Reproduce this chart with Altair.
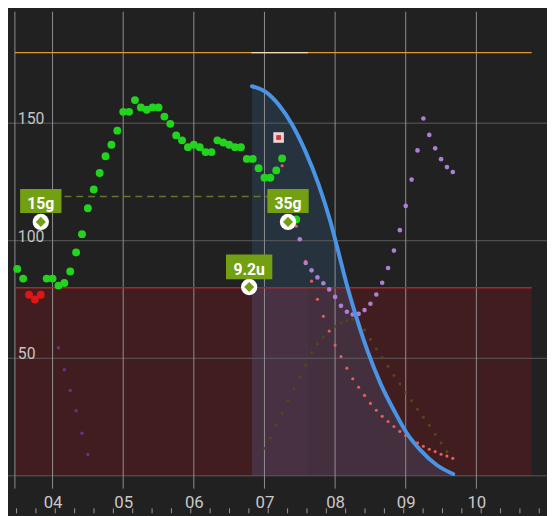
import altair as alt
import pandas as pd


def hrs(s):
    h, m = s.split(":")
    return int(h) + int(m) / 60.0


# ---------------- axes ----------------
x_start, x_end = "03:28", "11:00"
y_max = 197.4
hour_ticks = [4, 5, 6, 7, 8, 9, 10]
y_grid = [0, 50, 100, 150]
y_label_values = [50, 100, 150]
y_label_text = ["50", "100", "150"]

# small ticks of the overview strip along the bottom edge (every 16.4 min from 03:29.4)
preview_tick_first = 3.49
preview_tick_step = 0.2741
preview_tick_count = 28

high_level = 180
low_level = 80
zone_end = "10:47"

# ---------------- BG readings ----------------
bg_times = ["03:30", "03:35", "03:40", "03:45", "03:50", "03:55", "04:00", "04:05", "04:10", "04:15",
            "04:20", "04:25", "04:30", "04:35", "04:40", "04:45", "04:50", "04:55", "05:00", "05:05",
            "05:10", "05:15", "05:20", "05:25", "05:30", "05:35", "05:40", "05:45", "05:50", "05:55",
            "06:00", "06:05", "06:10", "06:15", "06:20", "06:25", "06:30", "06:35", "06:40", "06:45",
            "06:50", "06:55", "07:00", "07:05", "07:10", "07:15", "07:27"]
bg_values = [88.0, 83.9, 77.0, 75.0, 77.0, 83.9, 83.9, 80.9, 82.0, 86.9,
             95.0, 102.8, 113.8, 121.8, 128.8, 135.9, 140.8, 146.8, 154.8, 154.8,
             159.8, 156.7, 155.7, 156.7, 156.7, 152.8, 149.7, 144.8, 142.7, 139.8,
             140.8, 139.8, 137.7, 137.7, 142.7, 141.8, 140.8, 139.8, 139.8, 134.8,
             134.8, 130.8, 126.8, 126.8, 129.9, 135.0, 109.0]

# ---------------- predictions ----------------
early_pred_times = ["04:05", "04:10", "04:15", "04:20", "04:25", "04:30"]
early_pred_values = [54.5, 45.1, 36.3, 27.7, 18.1, 9.1]

purple_times = ["07:30", "07:35", "07:40", "07:45", "07:50", "07:55", "08:00", "08:05", "08:10",
                "08:15", "08:20", "08:25", "08:30", "08:35", "08:40", "08:45", "08:50", "08:55",
                "09:00", "09:05", "09:10", "09:15", "09:20", "09:25", "09:30", "09:35", "09:40"]
purple_values = [100.6, 90.5, 87.4, 84.4, 81.9, 79.3, 76.1, 72.3, 69.8,
                 68.6, 68.9, 70.5, 73.2, 77.1, 82.1, 88.4, 95.8, 104.5,
                 114.8, 126.0, 138.4, 152.0, 145.0, 139.3, 134.7, 131.3, 129.2]

red_times = ["07:15", "07:27", "07:35", "07:40", "07:45", "07:50", "07:55", "08:00", "08:05",
             "08:10", "08:15", "08:20", "08:25", "08:30", "08:35", "08:40", "08:45", "08:50",
             "08:55", "09:00", "09:05", "09:10", "09:15", "09:20", "09:25", "09:30", "09:35", "09:40"]
red_values = [131.9, 106.2, 91.2, 82.8, 75.1, 67.9, 61.6, 55.6, 50.7,
              45.8, 41.3, 37.7, 34.2, 30.8, 27.9, 25.3, 23.1, 21.0,
              18.9, 17.2, 15.3, 14.0, 12.6, 11.3, 10.3, 9.2, 8.4, 7.5]

olive_times = ["07:00", "07:05", "07:10", "07:15", "07:20", "07:25", "07:30", "07:35", "07:40",
               "07:45", "07:50", "07:55", "08:00", "08:05", "08:10", "08:15", "08:20", "08:25",
               "08:30", "08:35", "08:40", "08:45", "08:50", "08:55", "09:00", "09:05", "09:10",
               "09:15", "09:20", "09:25", "09:30", "09:35", "09:40"]
olive_values = [11.6, 16.0, 21.5, 26.5, 31.9, 37.0, 42.0, 47.0, 52.4,
                56.0, 59.0, 61.5, 63.5, 65.0, 66.0, 66.5, 65.0, 62.0,
                58.0, 53.9, 50.2, 46.5, 42.7, 39.1, 35.5, 31.9, 28.3,
                24.9, 21.4, 17.6, 14.0, 10.2, 7.4]

# ---------------- insulin activity curve ----------------
curve_hours = [6.823, 7.022, 7.208, 7.395, 7.580, 7.766, 7.929, 8.045, 8.162,
               8.301, 8.463, 8.650, 8.836, 9.021, 9.208, 9.439, 9.672]
curve_values = [165.7, 163.2, 157.6, 149.2, 138.0, 124.0, 108.6, 95.4, 81.7,
                67.5, 52.8, 38.8, 27.7, 17.9, 10.9, 4.6, 0.75]
active_start, active_end = "06:49", "07:37"

# ---------------- treatments ----------------
carb_times = ["03:50", "07:20"]
carb_values = [108, 108]
carb_labels = ["15g", "35g"]
carb_line_value = 118.8

insulin_times = ["06:47"]
insulin_values = [80.3]
insulin_labels = ["9.2u"]

calib_time = "07:12"
calib_value = 143.9

# ---------------- scales ----------------
xs = alt.Scale(domain=[hrs(x_start), hrs(x_end)], nice=False, zero=False)
ys = alt.Scale(domain=[0, y_max], nice=False, zero=False)
xaxis = alt.Axis(values=hour_ticks,
                 labelExpr="datum.value < 10 ? '0' + datum.value : '' + datum.value",
                 grid=False, ticks=False, domain=False, labelFontSize=17,
                 labelColor="#c9c9c9", labelFont="Roboto", labelPadding=19,
                 labelFlush=False, labelOverlap=False, title=None)


def X(f):
    return alt.X(f, type="quantitative", scale=xs, axis=xaxis)


def Y(f):
    return alt.Y(f, type="quantitative", scale=ys, axis=None)


def pts(times, values):
    return pd.DataFrame({"t": [hrs(s) for s in times], "v": values})


zone_df = pd.DataFrame({"t": [hrs(x_start)], "t2": [hrs(zone_end)], "lo": [0], "hi": [low_level]})
zone = alt.Chart(zone_df).mark_rect(color="#421d20").encode(
    x=X("t"), x2="t2", y=Y("lo"), y2="hi")

curve_df = pd.DataFrame({"t": curve_hours, "v": curve_values})
area = alt.Chart(curve_df).mark_area(color="#4a90e2", opacity=0.16, interpolate="monotone").encode(
    x=X("t"), y=Y("v"), y2=alt.datum(0))

band_df = pd.DataFrame({"t": [hrs(active_start)], "t2": [hrs(active_end)], "lo": [0], "hi": [low_level]})
band = alt.Chart(band_df).mark_rect(color="#ff9ab0", opacity=0.035).encode(
    x=X("t"), x2="t2", y=Y("lo"), y2="hi")

hgrid = alt.Chart(pd.DataFrame({"v": y_grid})).mark_rule(color="#5c5c5c", strokeWidth=1).encode(
    y=Y("v"), x=alt.value(-7), x2=alt.value(540))

vgrid = alt.Chart(pd.DataFrame({"t": [hrs(x_start)] + hour_ticks})).mark_rule(
    color="#8f8f8f", strokeWidth=1).encode(x=X("t"), y=alt.value(0), y2=alt.value(484))

preview_df = pd.DataFrame({"t": [preview_tick_first + k * preview_tick_step
                                 for k in range(preview_tick_count)]})
preview_ticks = alt.Chart(preview_df).mark_rule(color="#9a9a9a", strokeWidth=1).encode(
    x=X("t"), y=alt.value(504), y2=alt.value(509))

ylabels = alt.Chart(pd.DataFrame({"v": y_label_values, "label": y_label_text})).mark_text(
    align="left", baseline="alphabetic", fontSize=16, font="Roboto", color="#c4c4c4", dy=1).encode(
    x=alt.value(3), y=Y("v"), text="label:N")

high_df = pd.DataFrame({"t": [hrs(x_start)], "t2": [hrs(zone_end)], "v": [high_level]})
high = alt.Chart(high_df).mark_rule(color="#dd9a33", strokeWidth=1.5).encode(x=X("t"), x2="t2", y=Y("v"))
pale_df = pd.DataFrame({"t": [hrs(active_start)], "t2": [hrs(active_end)], "v": [high_level]})
pale = alt.Chart(pale_df).mark_rule(color="#f3dcae", strokeWidth=1.5).encode(x=X("t"), x2="t2", y=Y("v"))

low_df = pd.DataFrame({"t": [hrs(x_start)], "t2": [hrs(zone_end)], "v": [low_level]})
low = alt.Chart(low_df).mark_rule(color="#a82828", strokeWidth=1.5).encode(x=X("t"), x2="t2", y=Y("v"))

carb_line_df = pd.DataFrame({"t": [hrs(carb_times[0])], "t2": [hrs(carb_times[1])], "v": [carb_line_value]})
carb_line = alt.Chart(carb_line_df).mark_rule(color="#66752c", strokeWidth=1.5, strokeDash=[7, 5]).encode(
    x=X("t"), x2="t2", y=Y("v"))

early = alt.Chart(pts(early_pred_times, early_pred_values)).mark_circle(
    size=12, color="#6a3090", opacity=1).encode(x=X("t"), y=Y("v"))
olive = alt.Chart(pts(olive_times, olive_values)).mark_circle(
    size=9, color="#4f4b19", opacity=1).encode(x=X("t"), y=Y("v"))
redp = alt.Chart(pts(red_times, red_values)).mark_circle(
    size=10, color="#e4605a", opacity=1).encode(x=X("t"), y=Y("v"))
purple = alt.Chart(pts(purple_times, purple_values)).mark_circle(
    size=22, color="#ad7fd6", opacity=1).encode(x=X("t"), y=Y("v"))

curve = alt.Chart(curve_df).mark_line(color="#4a94e6", strokeWidth=4, interpolate="monotone",
                                       strokeCap="round").encode(x=X("t"), y=Y("v"))

bg = alt.Chart(pts(bg_times, bg_values)).mark_circle(size=64, opacity=1).encode(
    x=X("t"), y=Y("v"),
    color=alt.condition(f"datum.v < {low_level}", alt.value("#e01515"), alt.value("#22d41e")))

calib_df = pts([calib_time], [calib_value])
calib_outer = alt.Chart(calib_df).mark_square(size=115, color="#f2d4d6", opacity=1).encode(x=X("t"), y=Y("v"))
calib_inner = alt.Chart(calib_df).mark_square(size=24, color="#d63a3a", opacity=1).encode(x=X("t"), y=Y("v"))

box_green = "#72a012"

carb_df = pts(carb_times, carb_values)
carb_df["label"] = carb_labels
ins_df = pts(insulin_times, insulin_values)
ins_df["label"] = insulin_labels

treat_df = pd.concat([carb_df, ins_df], ignore_index=True)
ring = alt.Chart(treat_df).mark_circle(size=275, color="white", opacity=1).encode(x=X("t"), y=Y("v"))
diamond = alt.Chart(treat_df).mark_point(shape="diamond", size=105, filled=True, color=box_green,
                                         opacity=1, strokeWidth=0).encode(x=X("t"), y=Y("v"))

carb_box = alt.Chart(carb_df).mark_rect(color=box_green, xOffset=-21, x2Offset=21,
                                        yOffset=-33.5, y2Offset=-9).encode(
    x=X("t"), x2="t", y=Y("v"), y2="v")
ins_box = alt.Chart(ins_df).mark_rect(color=box_green, xOffset=-23.5, x2Offset=23.5,
                                      yOffset=-33, y2Offset=-8).encode(
    x=X("t"), x2="t", y=Y("v"), y2="v")
carb_text = alt.Chart(carb_df).mark_text(color="white", fontSize=16, fontWeight="bold", font="Roboto",
                                         align="center", baseline="alphabetic", dy=-13.5).encode(
    x=X("t"), y=Y("v"), text="label:N")
ins_text = alt.Chart(ins_df).mark_text(color="white", fontSize=16, fontWeight="bold", font="Roboto",
                                       align="center", baseline="alphabetic", dy=-12.7).encode(
    x=X("t"), y=Y("v"), text="label:N")

chart = alt.layer(
    zone, band, area, hgrid, vgrid, preview_ticks, ylabels, high, pale, low, carb_line,
    early, olive, redp, purple, curve, bg, calib_outer, calib_inner,
    ring, diamond, carb_box, ins_box, carb_text, ins_text
).properties(
    width=540, height=471,
    padding={"left": 7, "top": 0, "right": 0, "bottom": 37},
    autosize=alt.AutoSizeParams(type="none"),
    background="#212121",
).configure_view(stroke=None)

chart.save("out.html", embed_options={"renderer": "svg", "actions": False})
